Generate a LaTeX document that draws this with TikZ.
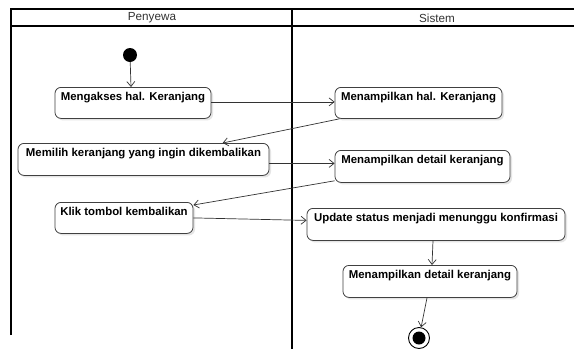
\documentclass[tikz,border=0pt]{standalone}
\usepackage{fontspec}
\setmainfont{Liberation Sans}
\usetikzlibrary{arrows.meta,shadows}
\begin{document}
\begin{tikzpicture}[x=1pt,y=-1pt,
  act/.style={draw=black!75, line width=0.8pt, rounded corners=6pt, fill=white, anchor=north,
    inner sep=0pt, align=center, text height=13pt,
    font=\bfseries\fontsize{11.4}{13}\selectfont,
    drop shadow={shadow xshift=2pt, shadow yshift=-2pt, fill=black!10, opacity=1}},
  flow/.style={draw=black!80, line width=0.7pt, -{Straight Barb[length=5pt,width=8pt]}},
  lane/.style={line width=1.3pt, draw=black},
  hdr/.style={font=\fontsize{11.7}{13}\selectfont, text=black!80}
]
\useasboundingbox (0,0) rectangle (574,349);
\fill[white] (0,0) rectangle (574,349);

% swimlanes
\draw[lane] (11,335) -- (11,9) -- (574,9);
\draw[lane] (11,26) -- (574,26);
\draw[lane] (292,9) -- (292,349);
\node[hdr] (h1) at (152,18) {Penyewa};
\node[hdr] (h2) at (437,18) {Sistem};

% start / end
\node[circle, fill=black, minimum size=14pt, inner sep=0pt] (start) at (130,55) {};
\node[circle, draw=black, line width=0.9pt, fill=white, minimum size=21pt, inner sep=0pt] (fin) at (419,338) {};
\node[circle, fill=black, minimum size=13pt, inner sep=0pt] (finin) at (fin) {};

% activities
\node[act, minimum width=156pt, text depth=18pt] (b1) at (133,87) {Mengakses hal. Keranjang};
\node[act, minimum width=167pt, text depth=18pt] (b2) at (418.5,87) {Menampilkan hal. Keranjang};
\node[act, minimum width=251pt, text depth=19pt] (b3) at (143.5,143) {Memilih keranjang yang ingin dikembalikan};
\node[act, minimum width=175pt, text depth=19pt] (b4) at (422.5,150) {Menampilkan detail keranjang};
\node[act, minimum width=138pt, text depth=18pt] (b5) at (124,202) {Klik tombol kembalikan};
\node[act, minimum width=258pt, text depth=19pt] (b6) at (436,208) {Update status menjadi menunggu konfirmasi};
\node[act, minimum width=174pt, text depth=19pt] (b7) at (430,265) {Menampilkan detail keranjang};

% flows
\draw[flow] (start) -- ([xshift=-2pt]b1.north);
\draw[flow] ([yshift=1pt]b1.east) -- ([yshift=1pt]b2.west);
\draw[flow] ([xshift=5pt]b2.south west) -- ([xshift=205pt]b3.north west);
\draw[flow] ([yshift=-4pt]b3.east) -- ([yshift=3pt]b4.west);
\draw[flow] ([yshift=2pt]b4.south west) -- ([yshift=-3pt]b5.north east);
\draw[flow] (b5.east) -- ([yshift=4pt]b6.west);
\draw[flow] ([xshift=-3pt]b6.south) -- ([xshift=2pt]b7.north);
\draw[flow] ([xshift=-3pt]b7.south) -- (fin);
\end{tikzpicture}
\end{document}
